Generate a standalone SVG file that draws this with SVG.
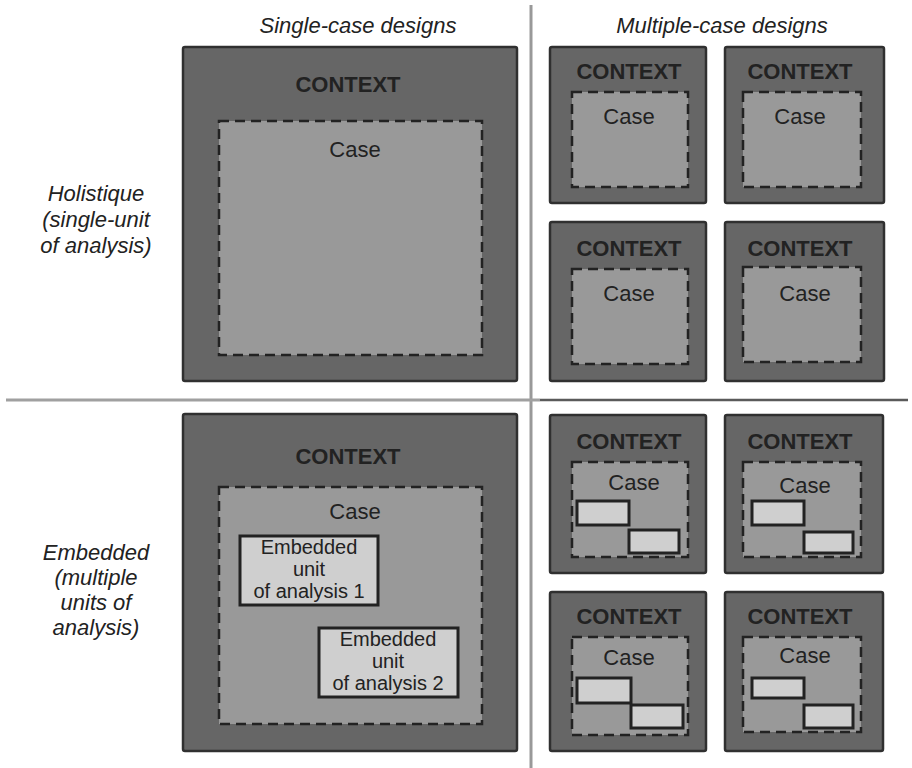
<svg xmlns="http://www.w3.org/2000/svg" width="912" height="768" viewBox="0 0 912 768">
  <style>
    .ctx { fill: #666; stroke: #303030; stroke-width: 2.5; }
    .case { fill: #999; stroke: #222; stroke-width: 2.5; stroke-dasharray: 10 6; }
    .unit { fill: #cfcfcf; stroke: #222; stroke-width: 3; }
    .ctxt { font-family: "Liberation Sans", Arial, sans-serif; font-size: 22px; font-weight: bold; fill: #222; text-anchor: middle; }
    .lbl { font-family: "Liberation Sans", Arial, sans-serif; font-size: 22px; fill: #222; text-anchor: middle; }
    .unit-lbl { font-family: "Liberation Sans", Arial, sans-serif; font-size: 20px; fill: #222; text-anchor: middle; }
    .head { font-family: "Liberation Sans", Arial, sans-serif; font-size: 22px; font-style: italic; fill: #222; text-anchor: middle; }
  </style>

  <!-- quadrant dividers -->
  <g id="dividers">
    <line x1="531" y1="5" x2="531" y2="768" stroke="#999" stroke-width="3"/>
    <line x1="6" y1="400" x2="540" y2="400" stroke="#a0a0a0" stroke-width="3"/>
    <line x1="540" y1="400" x2="908" y2="400" stroke="#5a5a5a" stroke-width="2.5"/>
  </g>

  <!-- column and row headings -->
  <g id="headings">
    <text class="head" x="358" y="33">Single-case designs</text>
    <text class="head" x="722" y="33">Multiple-case designs</text>
    <text class="head" x="96" y="201">Holistique</text>
    <text class="head" x="96" y="227">(single-unit</text>
    <text class="head" x="96" y="253">of analysis)</text>
    <text class="head" x="96" y="560">Embedded</text>
    <text class="head" x="96" y="585">(multiple</text>
    <text class="head" x="96" y="610">units of</text>
    <text class="head" x="96" y="635">analysis)</text>
  </g>

  <!-- single-case, holistic -->
  <g id="single-holistic">
    <rect class="ctx" x="183" y="47" width="334" height="334" rx="2"/>
    <text class="ctxt" x="348" y="92">CONTEXT</text>
    <rect class="case" x="219" y="121" width="263" height="234"/>
    <text class="lbl" x="355" y="157">Case</text>
  </g>

  <!-- multiple-case, holistic -->
  <g id="multi-holistic-1">
    <rect class="ctx" x="550" y="47" width="156" height="156" rx="2"/>
    <text class="ctxt" x="629" y="79">CONTEXT</text>
    <rect class="case" x="572" y="92" width="116" height="95"/>
    <text class="lbl" x="629" y="124">Case</text>
  </g>
  <g id="multi-holistic-2">
    <rect class="ctx" x="725" y="47" width="159" height="156" rx="2"/>
    <text class="ctxt" x="800" y="79">CONTEXT</text>
    <rect class="case" x="743" y="92" width="118" height="95"/>
    <text class="lbl" x="800" y="124">Case</text>
  </g>
  <g id="multi-holistic-3">
    <rect class="ctx" x="550" y="222" width="156" height="159" rx="2"/>
    <text class="ctxt" x="629" y="256">CONTEXT</text>
    <rect class="case" x="572" y="269" width="116" height="95"/>
    <text class="lbl" x="629" y="301">Case</text>
  </g>
  <g id="multi-holistic-4">
    <rect class="ctx" x="725" y="222" width="159" height="159" rx="2"/>
    <text class="ctxt" x="800" y="256">CONTEXT</text>
    <rect class="case" x="743" y="267" width="118" height="95"/>
    <text class="lbl" x="805" y="301">Case</text>
  </g>

  <!-- single-case, embedded -->
  <g id="single-embedded">
    <rect class="ctx" x="183" y="414" width="334" height="337" rx="2"/>
    <text class="ctxt" x="348" y="464">CONTEXT</text>
    <rect class="case" x="219" y="487" width="263" height="237"/>
    <text class="lbl" x="355" y="519">Case</text>
  </g>
  <g id="unit-1">
    <rect class="unit" x="240" y="536" width="138" height="69"/>
    <text class="unit-lbl" x="309" y="554">Embedded</text>
    <text class="unit-lbl" x="309" y="576">unit</text>
    <text class="unit-lbl" x="309" y="598">of analysis 1</text>
  </g>
  <g id="unit-2">
    <rect class="unit" x="319" y="628" width="139" height="69"/>
    <text class="unit-lbl" x="388" y="646">Embedded</text>
    <text class="unit-lbl" x="388" y="668">unit</text>
    <text class="unit-lbl" x="388" y="690">of analysis 2</text>
  </g>

  <!-- multiple-case, embedded -->
  <g id="multi-embedded-1">
    <rect class="ctx" x="550" y="415" width="156" height="158" rx="2"/>
    <text class="ctxt" x="629" y="449">CONTEXT</text>
    <rect class="case" x="572" y="462" width="116" height="95"/>
    <text class="lbl" x="634" y="490">Case</text>
    <rect class="unit" x="577" y="501" width="52" height="24"/>
    <rect class="unit" x="629" y="530" width="50" height="23"/>
  </g>
  <g id="multi-embedded-2">
    <rect class="ctx" x="725" y="415" width="158" height="158" rx="2"/>
    <text class="ctxt" x="800" y="449">CONTEXT</text>
    <rect class="case" x="743" y="462" width="118" height="95"/>
    <text class="lbl" x="805" y="493">Case</text>
    <rect class="unit" x="752" y="501" width="52" height="24"/>
    <rect class="unit" x="804" y="532" width="49" height="21"/>
  </g>
  <g id="multi-embedded-3">
    <rect class="ctx" x="550" y="592" width="156" height="159" rx="2"/>
    <text class="ctxt" x="629" y="624">CONTEXT</text>
    <rect class="case" x="572" y="637" width="116" height="98"/>
    <text class="lbl" x="629" y="665">Case</text>
    <rect class="unit" x="577" y="678" width="54" height="25"/>
    <rect class="unit" x="631" y="705" width="52" height="23"/>
  </g>
  <g id="multi-embedded-4">
    <rect class="ctx" x="725" y="592" width="158" height="159" rx="2"/>
    <text class="ctxt" x="800" y="624">CONTEXT</text>
    <rect class="case" x="743" y="637" width="118" height="95"/>
    <text class="lbl" x="805" y="663">Case</text>
    <rect class="unit" x="752" y="678" width="52" height="20"/>
    <rect class="unit" x="804" y="705" width="49" height="23"/>
  </g>
</svg>
